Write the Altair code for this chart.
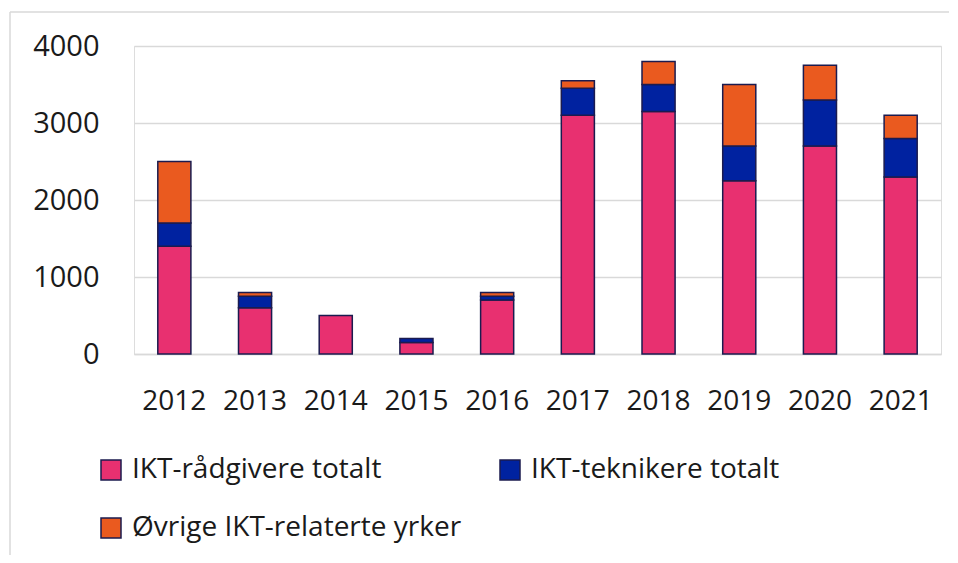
import altair as alt
import pandas as pd

years = ["2012", "2013", "2014", "2015", "2016", "2017", "2018", "2019", "2020", "2021"]
radgivere = [1400, 600, 500, 150, 700, 3100, 3150, 2250, 2700, 2300]
teknikere = [300, 150, 0, 50, 50, 350, 350, 450, 600, 500]
ovrige = [800, 50, 0, 0, 50, 100, 300, 800, 450, 300]
series = ["IKT-rådgivere totalt", "IKT-teknikere totalt", "Øvrige IKT-relaterte yrker"]
colors = ["#E83070", "#0022A0", "#EA5A1F"]
y_ticks = [0, 1000, 2000, 3000, 4000]

rows = []
for i, y in enumerate(years):
    for k, vals in enumerate([radgivere, teknikere, ovrige]):
        rows.append({"year": y, "serie": series[k], "value": vals[i], "order": k})
df = pd.DataFrame(rows)

# legend fills column by column: put entries so rows read as in the reference
legend_domain = [series[0], series[2], series[1]]
legend_range = [colors[0], colors[2], colors[1]]

FONT = "Open Sans"

bars = alt.Chart(df).transform_filter(alt.datum.value > 0).mark_bar(
    stroke="#1B1B4F", strokeWidth=1.5
).encode(
    x=alt.X("year:N", sort=years, title=None,
            scale=alt.Scale(paddingInner=0.59, paddingOuter=0.295),
            axis=alt.Axis(labelAngle=0, ticks=False, domain=True, domainColor="#d9d9d9",
                          domainWidth=1.5, labelPadding=33, labelFontSize=28,
                          labelColor="#1a1a1a", labelFont=FONT)),
    y=alt.Y("value:Q", stack="zero", title=None,
            scale=alt.Scale(domain=[0, 4000], nice=False),
            axis=alt.Axis(values=y_ticks, format="d", ticks=False, domain=False, grid=True,
                          gridColor="#d9d9d9", gridWidth=1.5, labelPadding=35,
                          labelFontSize=29, labelColor="#1a1a1a", labelFont=FONT)),
    color=alt.Color("serie:N", scale=alt.Scale(domain=legend_domain, range=legend_range),
                    legend=alt.Legend(title=None, orient="none", legendX=-37, legendY=410,
                                      columns=2, columnPadding=34, rowPadding=30,
                                      symbolType="square", symbolSize=400,
                                      symbolStrokeColor="#1B1B4F", symbolStrokeWidth=1.5,
                                      symbolOpacity=1, labelFontSize=28, labelFont=FONT,
                                      labelColor="#1a1a1a", labelOffset=7, padding=0,
                                      labelLimit=500)),
    order=alt.Order("order:Q"),
)

left_border = alt.Chart(pd.DataFrame({"a": [0]})).mark_rule(color="#d9d9d9", strokeWidth=1.5).encode(
    x=alt.value(-124), y=alt.value(-34), y2=alt.value(515)
)
top_border = alt.Chart(pd.DataFrame({"a": [0]})).mark_rule(color="#d9d9d9", strokeWidth=1.5).encode(
    x=alt.value(-124), x2=alt.value(815), y=alt.value(-34)
)

chart = alt.layer(bars, left_border, top_border).properties(
    width=807, height=308,
    autosize=alt.AutoSizeParams(type="none"),
    padding={"left": 126, "top": 38, "right": 8, "bottom": 201},
).configure_view(stroke=None).configure(background="white")

chart.save("out.html", embed_options={"renderer": "svg", "actions": False})
